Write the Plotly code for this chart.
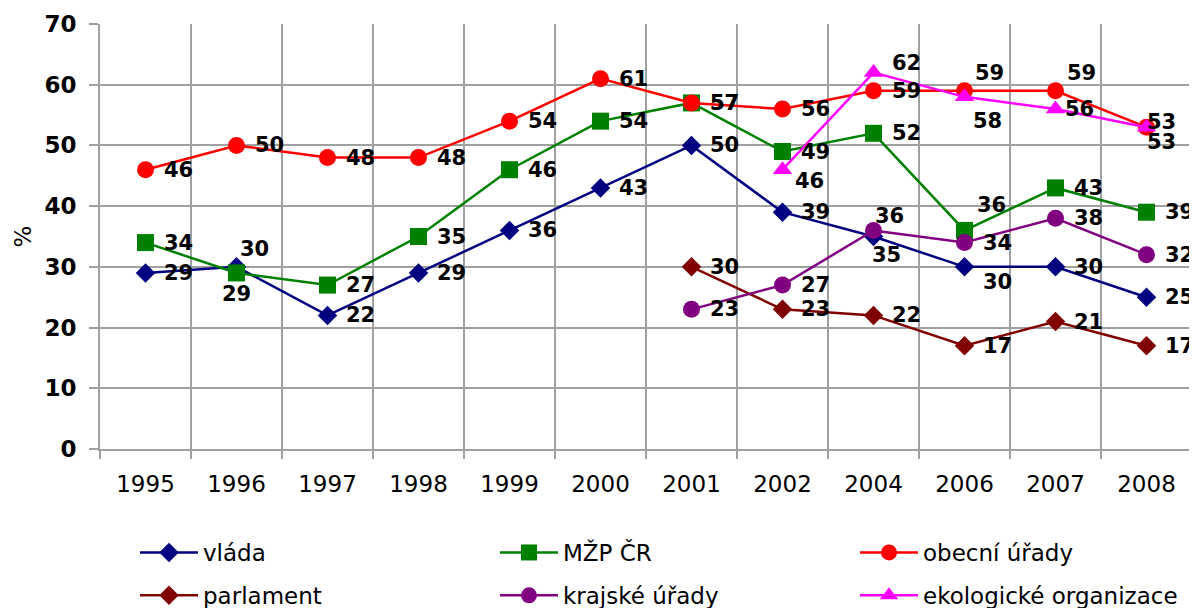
import plotly.graph_objects as go

# ---- data ----
years = ["1995", "1996", "1997", "1998", "1999", "2000", "2001", "2002", "2004", "2006", "2007", "2008"]
vlada = [29, 30, 22, 29, 36, 43, 50, 39, 35, 30, 30, 25]
mzp = [34, 29, 27, 35, 46, 54, 57, 49, 52, 36, 43, 39]
obecni = [46, 50, 48, 48, 54, 61, 57, 56, 59, 59, 59, 53]
parlament = [None, None, None, None, None, None, 30, 23, 22, 17, 21, 17]
krajske = [None, None, None, None, None, None, 23, 27, 36, 34, 38, 32]
eko = [None, None, None, None, None, None, None, 46, 62, 58, 56, 53]

names = ["vláda", "MŽP ČR", "obecní úřady", "parlament", "krajské úřady", "ekologické organizace"]

# ---- styles ----
FONT = "DejaVu Sans"
GRID = "#a0a0a0"
# the page adds an 8px body margin, so the figure is sized/positioned to compensate
W, H = 1189, 600
PL, PR, PT, PB = 92, 5, 16, 159
PW, PH = W - PL - PR, H - PT - PB

series = [
    dict(name=names[0], y=vlada, color="#000080", symbol="diamond", size=15, legend="legend"),
    dict(name=names[1], y=mzp, color="#008000", symbol="square", size=17, legend="legend2"),
    dict(name=names[2], y=obecni, color="#ff0000", symbol="circle", size=17, legend="legend3"),
    dict(name=names[3], y=parlament, color="#800000", symbol="diamond", size=15, legend="legend"),
    dict(name=names[4], y=krajske, color="#800080", symbol="circle", size=17, legend="legend2"),
    dict(name=names[5], y=eko, color="#ff00ff", symbol="triangle-up", size=17, legend="legend3"),
]

# label offsets (dx = left edge from marker centre, dy = down), default right of marker
DX_ADJ = -3
DEFAULT_OFF = (19, 0)
label_off = {
    names[0]: {1: (4, -18), 8: (-1, 18), 9: (19, 15)},
    names[1]: {1: (-14, 21), 9: (13, -25)},
    names[2]: {9: (11, -18), 10: (12, -18), 11: (1, -5)},
    names[3]: {},
    names[4]: {8: (2, -14)},
    names[5]: {7: (13, 11), 8: (19, -10), 9: (9, 24), 10: (10, 0), 11: (1, 15)},
}

fig = go.Figure()
annotations = []
for s in series:
    fig.add_trace(go.Scatter(
        x=years, y=s["y"], name=s["name"], mode="lines+markers",
        line=dict(color=s["color"], width=2.5),
        marker=dict(symbol=s["symbol"], size=s["size"], color=s["color"], line=dict(width=0)),
        legend=s["legend"], legendgroup=s["name"],
    ))
    offs = label_off[s["name"]]
    for i, v in enumerate(s["y"]):
        if v is None:
            continue
        dx, dy = offs.get(i, DEFAULT_OFF)
        annotations.append(dict(
            x=i, y=v, xref="x", yref="y", text="<b>%d</b>" % v, showarrow=False,
            xanchor="left", yanchor="middle", xshift=dx + DX_ADJ, yshift=-dy,
            font=dict(family=FONT, size=21, color="black"),
        ))


def px_x(p):
    return (p - PL) / PW


def px_y(p):
    return (H - PB - p) / PH


leg_common = dict(
    font=dict(family=FONT, size=23, color="black"),
    orientation="v", xref="paper", yref="paper", itemwidth=58,
    xanchor="left", yanchor="top", tracegroupgap=10, bgcolor="rgba(0,0,0,0)",
)

fig.update_layout(
    width=W, height=H,
    margin=dict(l=PL, r=PR, t=PT, b=PB, autoexpand=False),
    paper_bgcolor="white", plot_bgcolor="white",
    font=dict(family=FONT, color="black"),
    annotations=annotations,
    legend=dict(x=px_x(127), y=px_y(523), **leg_common),
    legend2=dict(x=px_x(487), y=px_y(523), **leg_common),
    legend3=dict(x=px_x(847), y=px_y(523), **leg_common),
    xaxis=dict(
        type="category", categoryorder="array", categoryarray=years,
        range=[-0.5, len(years) - 0.5], tickson="boundaries",
        ticks="outside", ticklen=8, tickwidth=2, tickcolor=GRID,
        showgrid=True, gridcolor=GRID, gridwidth=2,
        showline=True, linecolor=GRID, linewidth=2,
        tickfont=dict(family=FONT, size=23, color="black"),
        ticklabelstandoff=13,
        tickangle=0, zeroline=False,
    ),
    yaxis=dict(
        range=[0, 70], dtick=10, tick0=0,
        ticks="outside", ticklen=9, tickwidth=2, tickcolor=GRID,
        showgrid=True, gridcolor=GRID, gridwidth=2,
        showline=True, linecolor=GRID, linewidth=2,
        tickfont=dict(family=FONT, size=23, color="black", weight="bold"),
        ticklabelstandoff=8,
        title=dict(text="%", font=dict(family=FONT, size=23, color="black"), standoff=6),
        zeroline=False,
    ),
)

fig.write_html("out.html")
